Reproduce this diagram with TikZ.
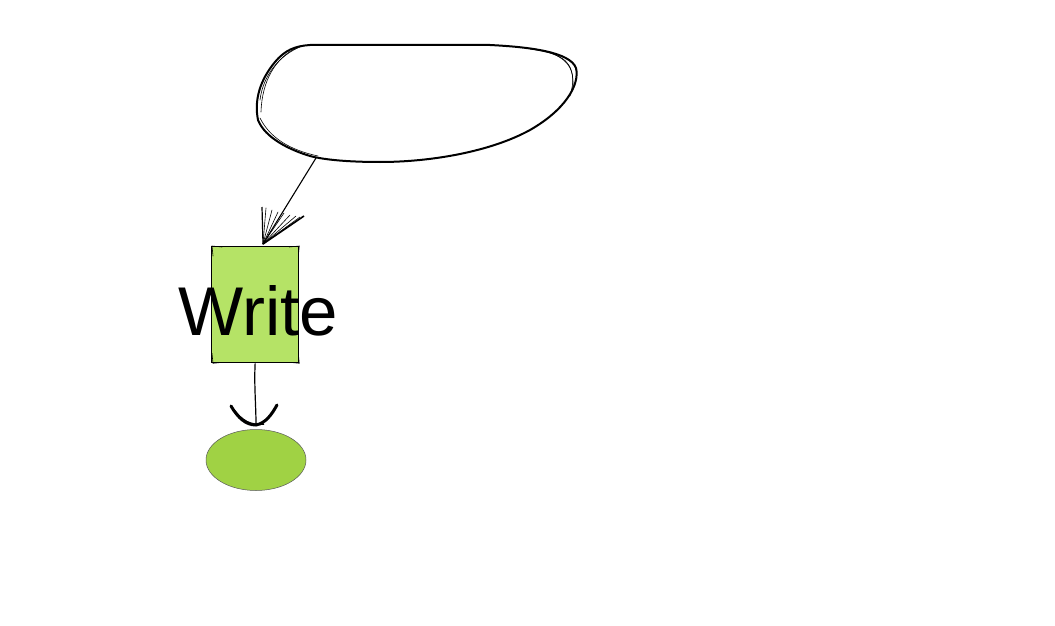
\documentclass[tikz,border=0pt]{standalone}
\usepackage{fontspec}
\setmainfont{Liberation Sans}
\usetikzlibrary{shapes.geometric}
\definecolor{boxgreen}{HTML}{B5E366}
\definecolor{ellgreen}{HTML}{A0D244}
\tikzset{
  sketch/.style={draw=black, line width=2pt, line join=round, line cap=round},
  fine/.style={draw=black, line width=0.6pt, line cap=round},
}
\begin{document}
\begin{tikzpicture}[x=1pt,y=-1pt]
\useasboundingbox (0,0) rectangle (1055,626);
% blob
\path[fill=white, sketch]
  (310,45) -- (490,45) .. controls (530,47) and (570,52) .. (576,68)
  .. controls (580,85) and (565,110) .. (530,130)
  .. controls (490,152) and (430,162) .. (380,162)
  .. controls (350,162) and (325,160) .. (310,156)
  .. controls (290,150) and (265,138) .. (258,120)
  .. controls (254,100) and (260,80) .. (275,62)
  .. controls (285,50) and (295,46) .. (310,45) -- cycle;
\draw[fine] (300,47) .. controls (280,55) and (263,75) .. (260,100);
\draw[fine] (296,48) .. controls (276,58) and (262,80) .. (261,112);
\draw[fine] (530,49) .. controls (565,54) and (574,62) .. (573,88);
\draw[fine] (545,51) .. controls (568,58) and (578,70) .. (570,96);
\draw[fine] (260,118) .. controls (270,138) and (290,150) .. (318,156);
\coordinate (blobout) at (316,158);
% rectangle
\node[draw=black, line width=1.3pt, fill=boxgreen, minimum width=87pt, minimum height=116pt, inner sep=0pt, anchor=north west] (box) at (211,246) {};
\draw[fine] (box.north west) ++(2,10) -- ++(-1,-10) -- ++(10,1);
\draw[fine] (box.north east) ++(-10,1) -- ++(10,-1) -- ++(-1,10);
\draw[fine] (box.south west) ++(1,-10) -- ++(1,10) -- ++(10,-1);
\draw[fine] (box.south east) ++(-10,-1) -- ++(10,1) -- ++(-1,-10);
\node[font=\fontsize{69}{80}\selectfont, inner sep=0pt, anchor=base] (lbl) at (258,335) {Write};
% ellipse
\node[draw=gray!70!black, line width=0.5pt, fill=ellgreen, ellipse, minimum width=100pt, minimum height=61pt, inner sep=0pt] (ell) at (256,460) {};
% arrow 1
\coordinate (tip1) at (263,244);
\draw[line width=1.1pt] (blobout) -- (tip1);
\draw[line width=1.2pt] (tip1) -- (262,207);
\draw[line width=1.6pt] (tip1) -- (304,216);
\foreach \p in {(266,208),(272,210),(278,212),(284,213),(290,215),(296,216),(300,217)}
  \draw[fine] (tip1) -- \p;
% arrow 2
\coordinate (tip2) at (256,425);
\draw[line width=1.2pt] (box.south) .. controls (254,385) and (256,405) .. (tip2);
\draw[line width=3pt, line cap=round] (231,406) .. controls (238,418) and (246,425) .. (tip2) .. controls (266,423) and (272,414) .. (277,405);
\draw[line width=1.5pt] (234,410) .. controls (242,420) and (250,426) .. (264,424);
\end{tikzpicture}
\end{document}
